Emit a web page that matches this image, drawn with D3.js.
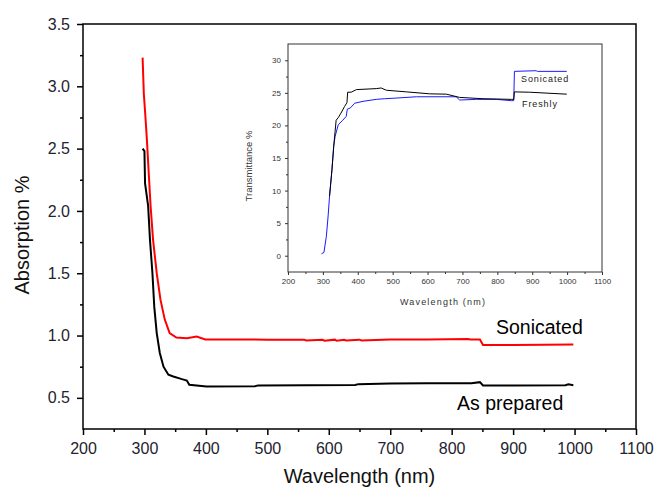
<!DOCTYPE html>
<html>
<head>
<meta charset="utf-8">
<script src="https://cdn.jsdelivr.net/npm/d3@7"></script>
<style>
  body { margin: 0; background: #fff; }
  text { font-family: "Liberation Sans", Arial, sans-serif; }
</style>
</head>
<body>
<div id="chart"></div>
<script>
// main chart: absorption
const sonicatedNm  = [297, 299, 301, 304, 307, 310, 314, 320, 326, 333, 341, 352, 369, 385, 399, 450, 500, 560, 563, 590, 593, 610, 613, 625, 628, 650, 653, 700, 760, 827, 830, 846, 851, 900, 950, 998];
const sonicatedAbs = [3.23, 2.94, 2.80, 2.57, 2.30, 2.04, 1.77, 1.50, 1.29, 1.13, 1.02, 0.984, 0.979, 0.992, 0.968, 0.968, 0.967, 0.967, 0.960, 0.966, 0.959, 0.967, 0.958, 0.966, 0.960, 0.967, 0.961, 0.968, 0.968, 0.972, 0.968, 0.968, 0.925, 0.925, 0.927, 0.928];
const preparedNm   = [297, 300, 301, 306, 309, 313, 316, 320, 325, 331, 339, 347, 361, 369, 373, 401, 480, 485, 643, 648, 700, 760, 832, 846, 851, 900, 985, 990, 998];
const preparedAbs  = [2.50, 2.48, 2.22, 2.04, 1.77, 1.50, 1.23, 1.02, 0.86, 0.75, 0.685, 0.671, 0.650, 0.639, 0.605, 0.591, 0.594, 0.600, 0.603, 0.610, 0.615, 0.617, 0.618, 0.626, 0.600, 0.600, 0.601, 0.608, 0.601];

// inset: transmittance
const insetSonNm  = [296, 303, 310, 315, 319, 326, 331, 335, 344, 357, 367, 370, 379, 391, 415, 453, 477, 510, 568, 682, 692, 740, 797, 840, 847, 849, 911, 915, 999];
const insetSonT   = [0.3, 0.5, 3.0, 6.1, 9.1, 13.2, 16.8, 18.3, 20.1, 20.8, 21.4, 22.5, 22.7, 23.4, 23.7, 24.0, 24.1, 24.2, 24.4, 24.4, 23.9, 24.0, 24.0, 23.8, 23.8, 28.3, 28.4, 28.3, 28.3];
const insetFreshNm = [319, 326, 331, 335, 338, 344, 352, 362, 369, 371, 381, 396, 453, 467, 482, 540, 606, 654, 692, 759, 840, 847, 849, 892, 999];
const insetFreshT  = [9.1, 13.2, 16.8, 19.1, 20.8, 21.2, 21.9, 22.9, 23.5, 25.1, 25.1, 25.5, 25.65, 25.75, 25.4, 25.15, 24.85, 24.8, 24.3, 24.1, 24.0, 24.0, 25.15, 25.1, 24.8];

const mainXTicks  = [200, 300, 400, 500, 600, 700, 800, 900, 1000, 1100];
const mainYTicks  = [0.5, 1.0, 1.5, 2.0, 2.5, 3.0, 3.5];
const insetXTicks = [200, 300, 400, 500, 600, 700, 800, 900, 1000, 1100];
const insetYTicks = [0, 5, 10, 15, 20, 25, 30];

const W = 654, H = 491;
const svg = d3.select('#chart').append('svg')
    .attr('width', W)
    .attr('height', H);

// ---- main plot ----
const m = { left: 83, right: 636, top: 24, bottom: 429 };
const x = d3.scaleLinear().domain([200, 1100]).range([m.left, m.right]);
const y = d3.scaleLinear().domain([0.25, 3.5]).range([m.bottom, m.top]);

svg.append('rect')
    .attr('x', m.left).attr('y', m.top)
    .attr('width', m.right - m.left).attr('height', m.bottom - m.top)
    .attr('fill', 'none').attr('stroke', '#000').attr('stroke-width', 1.5);

// minor ticks first, then major with labels
svg.append('g')
    .attr('transform', `translate(0,${m.bottom})`)
    .call(d3.axisBottom(x).tickValues(d3.range(250, 1100, 100)).tickSize(3).tickFormat(''))
    .call(g => g.select('.domain').remove())
    .selectAll('line').attr('stroke-width', 1.5);
svg.append('g')
    .attr('transform', `translate(0,${m.bottom})`)
    .call(d3.axisBottom(x).tickValues(mainXTicks).tickSize(6).tickPadding(8).tickFormat(d3.format('d')))
    .call(g => g.select('.domain').remove())
    .call(g => g.selectAll('line').attr('stroke-width', 1.5))
    .call(g => g.selectAll('text').attr('font-size', 16).attr('fill', '#1e2330')
        .attr('font-family', '"Liberation Sans", Arial, sans-serif'));

svg.append('g')
    .attr('transform', `translate(${m.left},0)`)
    .call(d3.axisLeft(y).tickValues(d3.range(0.75, 3.5, 0.5)).tickSize(3).tickFormat(''))
    .call(g => g.select('.domain').remove())
    .selectAll('line').attr('stroke-width', 1.5);
svg.append('g')
    .attr('transform', `translate(${m.left},0)`)
    .call(d3.axisLeft(y).tickValues(mainYTicks).tickSize(6).tickPadding(7).tickFormat(d3.format('.1f')))
    .call(g => g.select('.domain').remove())
    .call(g => g.selectAll('line').attr('stroke-width', 1.5))
    .call(g => g.selectAll('text').attr('font-size', 16).attr('fill', '#1e2330')
        .attr('font-family', '"Liberation Sans", Arial, sans-serif'));

svg.append('text')
    .attr('x', (m.left + m.right) / 2).attr('y', 483)
    .attr('text-anchor', 'middle').attr('font-size', 20).attr('fill', '#111')
    .text('Wavelength (nm)');
svg.append('text')
    .attr('transform', `translate(29,235) rotate(-90)`)
    .attr('text-anchor', 'middle').attr('font-size', 20).attr('fill', '#111')
    .text('Absorption %');

const mainLine = d3.line().x(d => x(d[0])).y(d => y(d[1]));
svg.append('path')
    .datum(d3.zip(sonicatedNm, sonicatedAbs))
    .attr('d', mainLine)
    .attr('fill', 'none').attr('stroke', '#ff0000').attr('stroke-width', 2);
svg.append('path')
    .datum(d3.zip(preparedNm, preparedAbs))
    .attr('d', mainLine)
    .attr('fill', 'none').attr('stroke', '#000').attr('stroke-width', 2);

svg.append('text')
    .attr('x', 496).attr('y', 334)
    .attr('font-size', 19.5).attr('fill', '#000')
    .text('Sonicated');
svg.append('text')
    .attr('x', 457).attr('y', 410)
    .attr('font-size', 19.5).attr('fill', '#000')
    .text('As prepared');

// ---- inset ----
const s = { left: 288, right: 602, top: 44, bottom: 272 };
const xi = d3.scaleLinear().domain([200, 1100]).range([s.left, s.right]);
const yi = d3.scaleLinear().domain([-2.5, 32.5]).range([s.bottom, s.top]);

svg.append('rect')
    .attr('x', s.left).attr('y', s.top)
    .attr('width', s.right - s.left).attr('height', s.bottom - s.top)
    .attr('fill', 'none').attr('stroke', '#333').attr('stroke-width', 1);

svg.append('g')
    .attr('transform', `translate(0,${s.bottom})`)
    .call(d3.axisBottom(xi).tickValues(d3.range(250, 1100, 100)).tickSize(2).tickFormat(''))
    .call(g => g.select('.domain').remove())
    .selectAll('line').attr('stroke', '#333');
svg.append('g')
    .attr('transform', `translate(0,${s.bottom})`)
    .call(d3.axisBottom(xi).tickValues(insetXTicks).tickSize(3).tickPadding(3).tickFormat(d3.format('d')))
    .call(g => g.select('.domain').remove())
    .call(g => g.selectAll('line').attr('stroke', '#333'))
    .call(g => g.selectAll('text').attr('font-size', 8).attr('fill', '#333')
        .attr('font-family', '"Liberation Sans", Arial, sans-serif'));

svg.append('g')
    .attr('transform', `translate(${s.left},0)`)
    .call(d3.axisLeft(yi).tickValues(d3.range(2.5, 32.5, 5)).tickSize(2).tickFormat(''))
    .call(g => g.select('.domain').remove())
    .selectAll('line').attr('stroke', '#333');
svg.append('g')
    .attr('transform', `translate(${s.left},0)`)
    .call(d3.axisLeft(yi).tickValues(insetYTicks).tickSize(3).tickPadding(4).tickFormat(d3.format('d')))
    .call(g => g.select('.domain').remove())
    .call(g => g.selectAll('line').attr('stroke', '#333'))
    .call(g => g.selectAll('text').attr('font-size', 8).attr('fill', '#333')
        .attr('font-family', '"Liberation Sans", Arial, sans-serif'));

svg.append('text')
    .attr('x', 443).attr('y', 305)
    .attr('text-anchor', 'middle').attr('font-size', 9).attr('fill', '#333')
    .attr('letter-spacing', 1.2)
    .text('Wavelength (nm)');
svg.append('text')
    .attr('transform', `translate(252,${166}) rotate(-90)`)
    .attr('text-anchor', 'middle').attr('font-size', 9.5).attr('fill', '#333')
    .text('Transmittance %');

const insetLine = d3.line().x(d => xi(d[0])).y(d => yi(d[1]));
svg.append('path')
    .datum(d3.zip(insetSonNm, insetSonT))
    .attr('d', insetLine)
    .attr('fill', 'none').attr('stroke', '#1a1aff').attr('stroke-width', 1);
svg.append('path')
    .datum(d3.zip(insetFreshNm, insetFreshT))
    .attr('d', insetLine)
    .attr('fill', 'none').attr('stroke', '#000').attr('stroke-width', 1);

svg.append('text')
    .attr('x', 521).attr('y', 82)
    .attr('font-size', 9).attr('fill', '#222').attr('letter-spacing', 0.9)
    .text('Sonicated');
svg.append('text')
    .attr('x', 522).attr('y', 107)
    .attr('font-size', 9).attr('fill', '#222').attr('letter-spacing', 0.9)
    .text('Freshly');
</script>
</body>
</html>
